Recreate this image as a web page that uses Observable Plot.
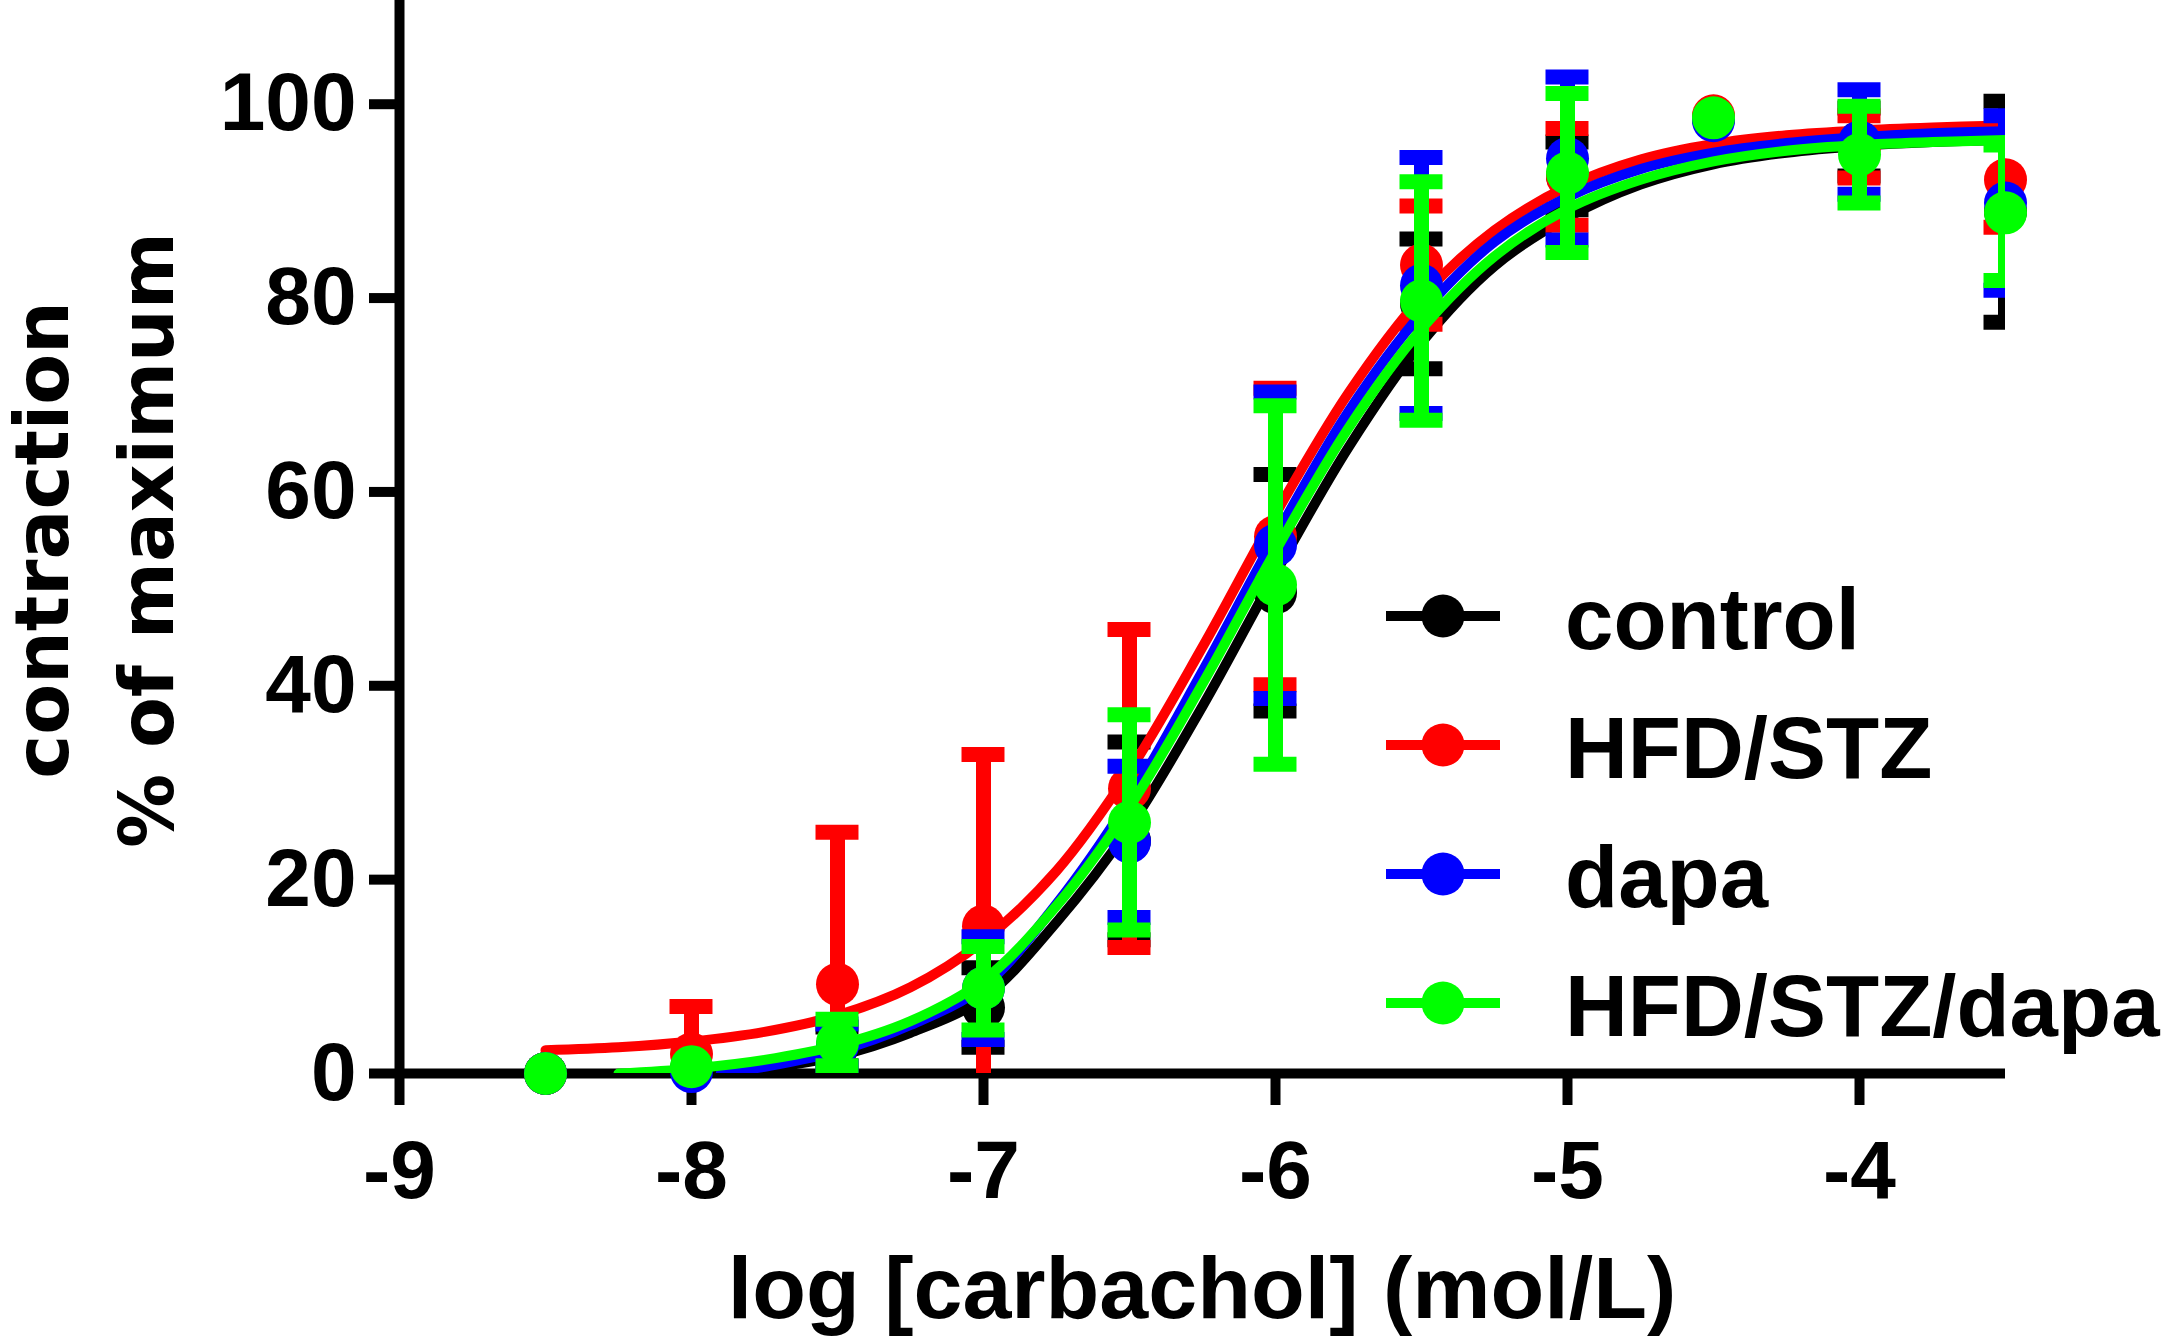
<!DOCTYPE html>
<html>
<head>
<meta charset="utf-8">
<script src="https://cdn.jsdelivr.net/npm/d3@7"></script>
<script src="https://cdn.jsdelivr.net/npm/@observablehq/plot@0.6"></script>
<style>
  html, body { margin: 0; padding: 0; background: #fff; }
  #chart { width: 2166px; height: 1338px; position: relative; overflow: hidden; }
</style>
</head>
<body>
<div id="chart"></div>
<script>
// ---------- data ----------
const groups = ["control", "HFD/STZ", "dapa", "HFD/STZ/dapa"];
const colors = ["#000000", "#ff0000", "#0000ff", "#00ff00"];

const doses = [-8.5, -8, -7.5, -7, -6.5, -6, -5.5, -5, -4.5, -4, -3.5];

const controlMean = [0, 0.5, 2.8, 6.8, 24.0, 49.6, 79.4, 92.6, 98.5, 96.1, 88.9];
const controlErr  = [0, 0, 2.0, 4.1, 10.2, 12.2, 6.7, 3.5, 0, 3.5, 11.4];

const hfdMean = [0, 2.0, 9.2, 15.2, 29.4, 55.4, 83.4, 92.5, 98.8, 95.6, 92.2];
const hfdErr  = [0, 4.9, 15.7, 17.7, 16.4, 15.3, 6.1, 5.0, 0, 3.2, 4.9];

const dapaMean = [0, 0.2, 2.9, 8.8, 23.9, 54.5, 81.3, 94.4, 98.3, 96.1, 89.8];
const dapaErr  = [0, 0, 2.2, 5.3, 7.8, 15.8, 13.2, 8.4, 0, 5.4, 9.0];

const hfdDapaMean = [0, 0.7, 3.2, 8.8, 25.9, 50.4, 79.7, 92.9, 98.6, 94.8, 88.8];
const hfdDapaErr  = [0, 0, 2.4, 4.3, 11.1, 18.5, 12.3, 8.2, 0, 5.0, 7.0];

// fitted curves
const controlCurveX = [-7.9, -7.75, -7.5, -7.25, -7, -6.75, -6.5, -6.25, -6, -5.75, -5.5, -5.25, -5, -4.75, -4.5, -4.25, -4, -3.75, -3.5];
const controlCurveY = [0, 0.5, 1.8, 4.2, 7.8, 15.6, 25.4, 37.9, 51.6, 64.6, 75.4, 83.3, 88.3, 91.7, 93.8, 95.0, 95.7, 96.1, 96.3];

const hfdCurveX = [-8.5, -8.25, -8, -7.75, -7.5, -7.25, -7, -6.75, -6.5, -6.25, -6, -5.75, -5.5, -5.25, -5, -4.75, -4.5, -4.25, -4, -3.75, -3.5];
const hfdCurveY = [2.4, 2.7, 3.3, 4.3, 6.0, 8.9, 13.7, 20.9, 31.2, 44.0, 57.7, 70.2, 80.1, 87.0, 91.5, 94.3, 95.9, 96.8, 97.3, 97.6, 97.8];

const dapaCurveX = [-7.9, -7.75, -7.5, -7.25, -7, -6.75, -6.5, -6.25, -6, -5.75, -5.5, -5.25, -5, -4.75, -4.5, -4.25, -4, -3.75, -3.5];
const dapaCurveY = [0, 0.7, 2.3, 5.0, 9.0, 17.5, 28.3, 41.5, 55.4, 68.3, 78.4, 85.8, 90.4, 93.3, 95.0, 96.0, 96.6, 97.0, 97.2];

const hfdDapaCurveX = [-8.25, -8, -7.75, -7.5, -7.25, -7, -6.75, -6.5, -6.25, -6, -5.75, -5.5, -5.25, -5, -4.75, -4.5, -4.25, -4, -3.75, -3.5];
const hfdDapaCurveY = [0, 0.5, 1.4, 2.9, 5.4, 9.6, 17.3, 27.5, 40.2, 53.9, 66.6, 76.8, 84.3, 89.2, 92.2, 94.1, 95.2, 95.8, 96.1, 96.3];

const xTicks = [-9, -8, -7, -6, -5, -4];
const yTicks = [0, 20, 40, 60, 80, 100];
const xLabel = "log [carbachol] (mol/L)";
const yLabel1 = "contraction";
const yLabel2 = "% of maximum";

// ---------- tables ----------
const means = [controlMean, hfdMean, dapaMean, hfdDapaMean];
const errs = [controlErr, hfdErr, dapaErr, hfdDapaErr];
const curveXs = [controlCurveX, hfdCurveX, dapaCurveX, hfdDapaCurveX];
const curveYs = [controlCurveY, hfdCurveY, dapaCurveY, hfdDapaCurveY];

const pointsByGroup = groups.map((g, gi) =>
  doses.map((x, i) => ({group: g, x, y: means[gi][i], e: errs[gi][i]}))
);
const curvesByGroup = groups.map((g, gi) =>
  curveXs[gi].map((x, i) => ({group: g, x, y: curveYs[gi][i]}))
);

// ---------- layout ----------
const W = 2166, H = 1338;
const capHalf = 0.0736; // half cap width in x units
const font = "'Liberation Sans', Arial, Helvetica, sans-serif";

const groupMarks = [];
groups.forEach((g, gi) => {
  const c = colors[gi];
  const pts = pointsByGroup[gi];
  const bars = pts.filter(d => d.e > 0);
  groupMarks.push(
    Plot.line(curvesByGroup[gi], {x: "x", y: "y", stroke: c, strokeWidth: 10, curve: "catmull-rom", clip: true}),
    Plot.ruleX(bars, {x: "x", y1: d => d.y - d.e, y2: d => d.y + d.e, stroke: c, strokeWidth: 15, clip: true}),
    Plot.ruleY(bars, {y: d => d.y + d.e, x1: d => d.x - capHalf, x2: d => d.x + capHalf, stroke: c, strokeWidth: 15, clip: true}),
    Plot.ruleY(bars, {y: d => d.y - d.e, x1: d => d.x - capHalf, x2: d => d.x + capHalf, stroke: c, strokeWidth: 15, clip: true}),
    Plot.dot(pts, {x: "x", y: "y", r: 21.5, fill: c, stroke: "none"})
  );
});

const chart = Plot.plot({
  width: W,
  height: H,
  marginLeft: 399,
  marginRight: 161,
  marginTop: 0,
  marginBottom: 265,
  style: {fontFamily: font, background: "#fff", color: "#000", overflow: "visible"},
  x: {domain: [-9, -3.5], label: null},
  y: {domain: [0, 110.7], label: null},
  marks: [
    Plot.axisX({ticks: xTicks, tickSize: 32, tickPadding: 34, strokeWidth: 10, fontSize: 82, fontWeight: "bold",
                tickFormat: d => String(d), label: null, stroke: "#000", fill: "#000"}),
    Plot.axisY({ticks: yTicks, tickSize: 30, tickPadding: 13, strokeWidth: 10, fontSize: 82, fontWeight: "bold",
                tickFormat: d => String(d), label: null, stroke: "#000", fill: "#000"}),
    Plot.ruleY([0], {stroke: "#000", strokeWidth: 10}),
    Plot.ruleX([-9], {stroke: "#000", strokeWidth: 10}),
    ...groupMarks
  ]
});

document.getElementById("chart").appendChild(chart);

// ---------- titles and legend ----------
const svg = d3.select(chart);

svg.append("text")
  .attr("x", 1202).attr("y", 1318)
  .attr("text-anchor", "middle")
  .style("font-family", font).style("font-weight", "bold").style("font-size", "88px")
  .attr("fill", "#000")
  .text(xLabel);

const yTitleFont = "'DejaVu Sans', Verdana, sans-serif";
[[yLabel1, 68], [yLabel2, 173]].forEach(([t, bx]) => {
  svg.append("text")
    .attr("transform", `translate(${bx},540) rotate(-90)`)
    .attr("text-anchor", "middle")
    .style("font-family", yTitleFont).style("font-weight", "bold").style("font-size", "74px")
    .attr("fill", "#000")
    .text(t);
});

const leg = svg.append("g");
groups.forEach((g, gi) => {
  const cy = 616 + gi * 129;
  leg.append("line").attr("x1", 1386).attr("x2", 1500).attr("y1", cy).attr("y2", cy)
    .attr("stroke", colors[gi]).attr("stroke-width", 10);
  leg.append("circle").attr("cx", 1443).attr("cy", cy).attr("r", 21.5).attr("fill", colors[gi]);
  leg.append("text").attr("x", 1565).attr("y", cy + 33)
    .attr("text-anchor", "start")
    .style("font-family", font).style("font-weight", "bold").style("font-size", "87px")
    .attr("fill", "#000").text(g);
});
</script>
</body>
</html>
